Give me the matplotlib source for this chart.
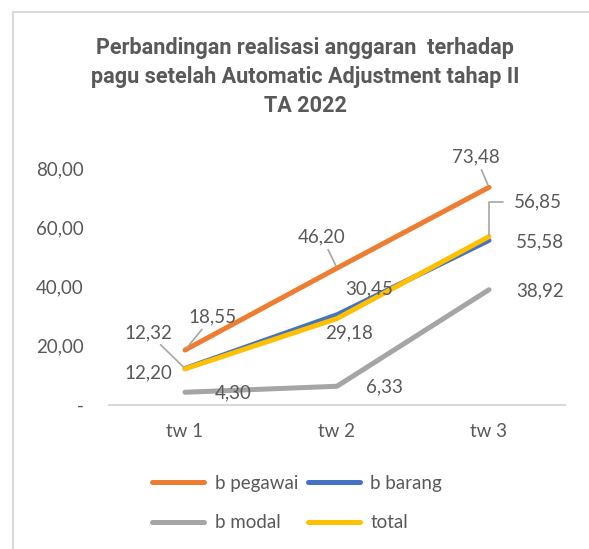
import matplotlib
matplotlib.use("Agg")
import matplotlib.pyplot as plt
from matplotlib.lines import Line2D
from matplotlib.ticker import FuncFormatter

# data
kategori = ["tw 1", "tw 2", "tw 3"]
b_pegawai = [18.55, 46.20, 73.48]
b_barang = [12.32, 30.45, 55.58]
b_modal = [4.30, 6.33, 38.92]
total = [12.20, 29.18, 56.85]
judul = "Perbandingan realisasi anggaran  terhadap\npagu setelah Automatic Adjustment tahap II\nTA 2022"

plt.rcParams['font.family'] = ['Lato', 'DejaVu Sans']
TXT = '#595959'
LEAD = '#a6a6a6'

fig = plt.figure(figsize=(5.89, 5.49), dpi=100)
W, H = 589.0, 549.0
ax = fig.add_axes([109/W, 1 - 405/H, 456/W, 237/H])

x = range(len(kategori))
seri = [("b pegawai", b_pegawai, '#ed7d31'),
        ("b barang", b_barang, '#4472c4'),
        ("b modal", b_modal, '#a5a5a5'),
        ("total", total, '#ffc000')]
garis = {}
for nama, ys, c in seri:
    garis[nama], = ax.plot(x, ys, color=c, lw=3.6, solid_capstyle='round',
                           solid_joinstyle='round', label=nama)

ax.set_xlim(-0.5, 2.5)
ax.set_ylim(0, 80)
ax.set_yticks([0, 20, 40, 60, 80])
ax.yaxis.set_major_formatter(FuncFormatter(
    lambda v, p: "-" if v == 0 else ("%.2f" % v).replace(".", ",")))
ax.set_xticks(list(x))
ax.set_xticklabels(kategori)
for s in ['top', 'right', 'left']:
    ax.spines[s].set_visible(False)
ax.spines['bottom'].set_color('#d9d9d9')
ax.spines['bottom'].set_linewidth(1.5)
ax.tick_params(axis='both', length=0, labelsize=13.5, colors=TXT)
ax.tick_params(axis='y', pad=18)
ax.tick_params(axis='x', pad=13)

# data labels: (offset x, offset y in pixels, leader line?)
def fmt(v):
    return ("%.2f" % v).replace(".", ",")

label_pos = {
    "b pegawai": [(27, 33, True), (-15, 31, True), (-13, 30, True)],
    "b barang": [(-37, 36, True), (32, 26, False), (51, -2, False)],
    "b modal": [(48, -1, False), (47, -1, False), (51, -1, False)],
    "total": [(-37, -4, False), (12, -14, False), (49, 35, 'elbow')],
}
for nama, ys, c in seri:
    for i, v in enumerate(ys):
        dx, dy, lead = label_pos[nama][i]
        kw = {}
        if lead is True:
            kw['arrowprops'] = dict(arrowstyle='-', color=LEAD, lw=1.2,
                                    shrinkA=1, shrinkB=2)
        elif lead == 'elbow':
            kw['arrowprops'] = dict(arrowstyle='-', color=LEAD, lw=1.2,
                                    shrinkA=6, shrinkB=1,
                                    connectionstyle='angle,angleA=0,angleB=90,rad=0')
        ax.annotate(fmt(v), xy=(i, v), xytext=(dx, dy),
                    textcoords='offset pixels', ha='center', va='center',
                    fontsize=13.5, color=TXT, **kw)

fig.text(305/W, 1 - 77/H, judul, ha='center', va='center',
         fontsize=15.6, fontweight='bold', color=TXT, linespacing=1.42,
         family=['Roboto', 'DejaVu Sans'])

urut = ["b pegawai", "b modal", "b barang", "total"]
fig.legend([garis[n] for n in urut], urut, loc='center',
           bbox_to_anchor=(297/W, 1 - 503/H), ncol=2,
           frameon=False, fontsize=13.5, labelcolor=TXT, handlelength=2.8,
           handletextpad=0.55, columnspacing=0.5, labelspacing=1.2)

# chart frame (only top and left visible)
fig.add_artist(Line2D([13/W, 13/W], [0, 1 - 12/H], color='#d9d9d9', lw=1.5))
fig.add_artist(Line2D([13/W, 1], [1 - 12/H, 1 - 12/H], color='#d9d9d9', lw=1.5))

fig.savefig("out.png", dpi=100, facecolor='white')
